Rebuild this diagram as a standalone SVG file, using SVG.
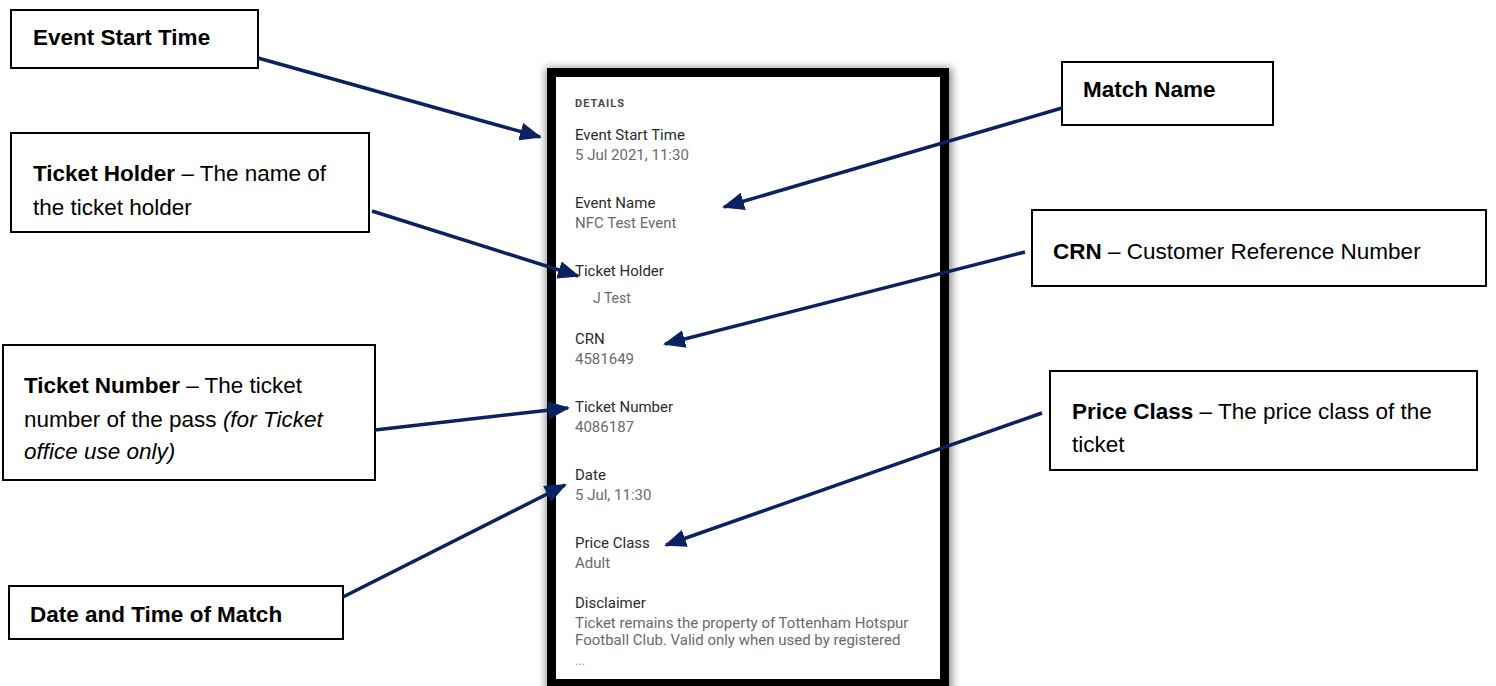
<svg xmlns="http://www.w3.org/2000/svg" width="1496" height="686" viewBox="0 0 1496 686">
<style>
.box{fill:#fff;stroke:#000;stroke-width:2}
.lbl{font-family:"Liberation Sans",Arial,sans-serif;font-size:22.5px;fill:#000}
.b{font-weight:bold}
.i{font-style:italic}
.conn{stroke:#0a2260;stroke-width:3.5;fill:none;marker-end:url(#ah)}
.ph{font-family:Roboto,"Liberation Sans",sans-serif;font-size:15px}
.ph .k{fill:#2b2b2b}
.ph .v{fill:#6a6a6a}
</style>
<defs>
<marker id="ah" markerUnits="userSpaceOnUse" markerWidth="22" markerHeight="18" viewBox="0 0 22 18" refX="20" refY="9" orient="auto">
<path d="M0,0 L22,9 L0,18 Z" fill="#0a2260"/>
</marker>
<filter id="sh" x="-10%" y="-10%" width="120%" height="120%">
<feGaussianBlur stdDeviation="4"/>
</filter>
</defs>
<rect width="1496" height="686" fill="#fff"/>
<g id="phone">
<rect x="546" y="68" width="406" height="626" fill="#888" filter="url(#sh)"/>
<rect x="547" y="68" width="402" height="630" fill="#000"/>
<rect x="556" y="77" width="384" height="602" fill="#fff"/>
<g class="ph">
<text x="575" y="107" font-size="11" letter-spacing="1" font-weight="bold" fill="#4a4a4a">DETAILS</text>
<text x="575" y="140" class="k">Event Start Time</text>
<text x="575" y="160" class="v">5 Jul 2021, 11:30</text>
<text x="575" y="208" class="k">Event Name</text>
<text x="575" y="228" class="v">NFC Test Event</text>
<text x="575" y="276" class="k">Ticket Holder</text>
<text x="593" y="303" class="v" font-size="14">J Test</text>
<text x="575" y="344" class="k">CRN</text>
<text x="575" y="364" class="v">4581649</text>
<text x="575" y="412" class="k">Ticket Number</text>
<text x="575" y="432" class="v">4086187</text>
<text x="575" y="480" class="k">Date</text>
<text x="575" y="500" class="v">5 Jul, 11:30</text>
<text x="575" y="548" class="k">Price Class</text>
<text x="575" y="568" class="v">Adult</text>
<text x="575" y="608" class="k">Disclaimer</text>
<text x="575" y="628" class="v">Ticket remains the property of Tottenham Hotspur</text>
<text x="575" y="645" class="v">Football Club. Valid only when used by registered</text>
<text x="575" y="665" font-size="13" fill="#7a9ad0">...</text>
</g>
</g>
<g id="n-event-start">
<rect class="box" x="11" y="10" width="247" height="58"/>
<text class="lbl b" x="33" y="45">Event Start Time</text>
</g>
<g id="n-ticket-holder">
<rect class="box" x="11" y="133" width="358" height="99"/>
<text class="lbl" x="33" y="181"><tspan class="b">Ticket Holder</tspan> – The name of</text>
<text class="lbl" x="33" y="215">the ticket holder</text>
</g>
<g id="n-ticket-number">
<rect class="box" x="3" y="345" width="372" height="135"/>
<text class="lbl" x="24" y="393"><tspan class="b">Ticket Number</tspan> – The ticket</text>
<text class="lbl" x="24" y="427">number of the pass <tspan class="i">(for Ticket</tspan></text>
<text class="lbl i" x="24" y="459">office use only)</text>
</g>
<g id="n-date-time">
<rect class="box" x="9" y="586" width="334" height="53"/>
<text class="lbl b" x="30" y="622">Date and Time of Match</text>
</g>
<g id="n-match-name">
<rect class="box" x="1062" y="62" width="211" height="63"/>
<text class="lbl b" x="1083" y="97">Match Name</text>
</g>
<g id="n-crn">
<rect class="box" x="1032" y="210" width="454" height="76"/>
<text class="lbl" x="1053" y="259"><tspan class="b">CRN</tspan> – Customer Reference Number</text>
</g>
<g id="n-price-class">
<rect class="box" x="1050" y="371" width="427" height="99"/>
<text class="lbl" x="1072" y="419"><tspan class="b">Price Class</tspan> – The price class of the</text>
<text class="lbl" x="1072" y="452">ticket</text>
</g>
<g id="connectors">
<line class="conn" x1="258" y1="58" x2="540" y2="137"/>
<line class="conn" x1="372" y1="211" x2="578" y2="276"/>
<line class="conn" x1="375" y1="430" x2="568" y2="408"/>
<line class="conn" x1="343" y1="597" x2="565" y2="485"/>
<line class="conn" x1="1062" y1="108" x2="724" y2="207"/>
<line class="conn" x1="1025" y1="252" x2="665" y2="344"/>
<line class="conn" x1="1042" y1="413" x2="666" y2="545"/>
</g>
</svg>
